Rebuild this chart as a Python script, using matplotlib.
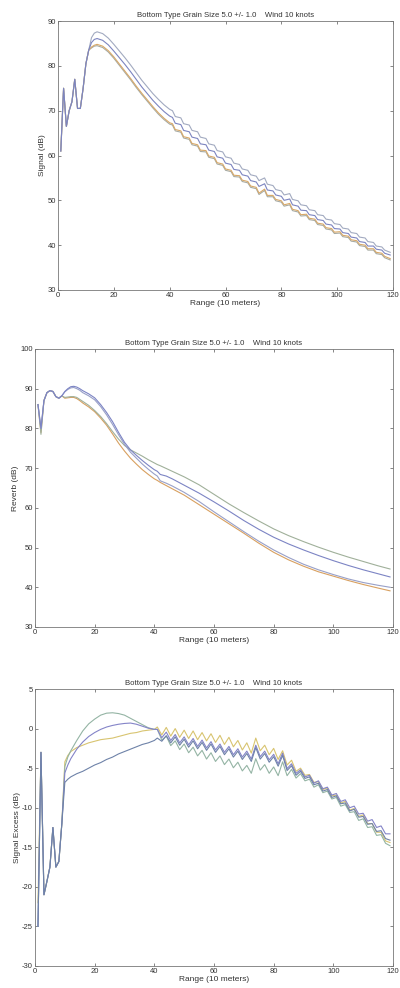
import matplotlib
matplotlib.use("Agg")
import matplotlib.pyplot as plt

plt.rcParams['font.family'] = ['Liberation Sans', 'DejaVu Sans']
plt.rcParams['axes.unicode_minus'] = False

TITLE = "Bottom Type Grain Size 5.0 +/- 1.0    Wind 10 knots"
XLABEL = "Range (10 meters)"
x_ticks = [0, 20, 40, 60, 80, 100, 120]

# Signal panel
sig_x = [1, 2, 3, 4, 5, 6, 7, 8, 9, 10, 11, 12, 13, 14,
         16, 18, 20, 22, 24, 26, 28, 30, 32, 34, 36, 38, 40,
         41, 42, 44, 45, 47, 48, 50, 51, 53, 54, 56, 57, 59, 60, 62, 63, 65, 66,
         68, 69, 71, 72, 74, 75, 77, 78, 80, 81, 83, 84, 86, 87, 89, 90, 92, 93,
         95, 96, 98, 99, 101, 102, 104, 105, 107, 108, 110, 111, 113, 114, 116,
         117, 119]
sig_a = [61, 75, 66.5, 70, 72, 77, 70.5, 70.5, 75, 80.5, 83.5, 86.3, 87.3, 87.6,
         87.2, 86.2, 84.8, 83.3, 81.8, 80.2, 78.5, 76.8, 75.3, 73.8, 72.5, 71.3, 70.3,
         70.0, 68.7, 68.4, 67.1, 66.8, 65.6, 65.3, 64.1, 63.8, 62.6, 62.3, 61.1, 60.8,
         59.7, 59.4, 58.3, 58.0, 57.0, 56.7, 55.7, 55.4, 54.4, 55.0, 53.6, 53.3, 52.4,
         52.1, 51.2, 51.5, 50.2, 49.9, 49.0, 48.8, 47.9, 47.7, 46.8, 46.6, 45.8, 45.6,
         44.8, 44.6, 43.8, 43.6, 42.8, 42.6, 41.8, 41.6, 40.8, 40.6, 39.8, 39.6, 38.9,
         38.4]
sig_b = [61, 75, 66.5, 70, 72, 77, 70.5, 70.5, 75, 80.5, 83.5, 85.2, 85.9, 86.1,
         85.7, 84.7, 83.3, 81.8, 80.3, 78.7, 77.0, 75.3, 73.8, 72.3, 71.0, 69.8, 68.8,
         68.5, 67.2, 66.9, 65.6, 65.3, 64.1, 63.8, 62.6, 62.4, 61.2, 60.9, 59.7, 59.4,
         58.3, 58.0, 56.9, 56.7, 55.7, 55.4, 54.4, 54.1, 53.1, 53.7, 52.3, 52.1, 51.2,
         50.9, 50.0, 50.3, 49.0, 48.7, 47.8, 47.7, 46.8, 46.6, 45.7, 45.5, 44.7, 44.5,
         43.7, 43.6, 42.8, 42.6, 41.8, 41.6, 40.8, 40.6, 39.8, 39.8, 39.1, 38.9, 38.2,
         37.8]
sig_c = [61, 75, 66.5, 70, 72, 77, 70.5, 70.5, 75, 80.5, 83.5, 84.2, 84.6, 84.8,
         84.4, 83.4, 82.0, 80.4, 78.8, 77.2, 75.5, 73.9, 72.4, 70.9, 69.5, 68.3, 67.3,
         67.1, 65.8, 65.5, 64.2, 63.9, 62.7, 62.4, 61.2, 61.1, 59.9, 59.6, 58.4, 58.1,
         57.0, 56.7, 55.6, 55.5, 54.5, 54.2, 53.2, 52.9, 51.6, 52.5, 51.1, 51.1, 50.2,
         49.9, 49.0, 49.3, 48.0, 47.7, 46.8, 46.9, 46.0, 45.8, 44.9, 44.7, 43.9, 43.7,
         42.9, 43.0, 42.2, 42.0, 41.2, 41.0, 40.2, 40.0, 39.2, 39.2, 38.4, 38.2, 37.5,
         37.0]
sig_d = [61, 75, 66.5, 70, 72, 77, 70.5, 70.5, 75, 80.5, 83.5, 84.0, 84.4, 84.5,
         84.1, 83.1, 81.7, 80.1, 78.5, 76.9, 75.2, 73.6, 72.1, 70.6, 69.2, 68.0, 67.0,
         66.8, 65.5, 65.2, 63.9, 63.6, 62.4, 62.1, 60.9, 60.8, 59.6, 59.3, 58.1, 57.8,
         56.7, 56.4, 55.3, 55.2, 54.2, 53.9, 52.9, 52.6, 51.3, 52.2, 50.8, 50.8, 49.9,
         49.6, 48.7, 49.0, 47.7, 47.4, 46.5, 46.6, 45.7, 45.5, 44.6, 44.4, 43.6, 43.4,
         42.6, 42.7, 41.9, 41.7, 40.9, 40.7, 39.9, 39.7, 38.9, 38.9, 38.1, 37.9, 37.2,
         36.7]

# Reverb panel
rev_x = [1, 2, 3, 4, 5, 6, 7, 8, 9, 10, 11, 12, 13, 14, 15, 16,
         18, 20, 22, 24, 26, 28, 30, 32, 34, 36, 38, 40,
         41, 42, 44, 46, 48, 50, 55, 60, 65, 70, 75, 80, 85, 90, 95, 100,
         105, 110, 115, 119]
rev_a = [86, 78.5, 87, 89, 89.5, 89.3, 88, 87.6, 88.2,
         87.8, 87.9, 88.0, 88.0, 87.8, 87.3, 86.8,
         85.8, 84.5, 83.0, 81.2, 79.2, 77.3, 75.7, 74.6, 73.8, 73.0, 72.1, 71.3,
         70.9, 70.6, 69.9, 69.2, 68.5, 67.8, 65.8, 63.4, 61.0, 58.8, 56.7, 54.7,
         53.0, 51.5, 50.1, 48.8, 47.6, 46.5, 45.4, 44.6]
rev_b = [86, 80, 87, 89, 89.5, 89.3, 88, 87.6, 88.2,
         89.3, 90.0, 90.5, 90.6, 90.4, 90.0, 89.5,
         88.7, 87.7, 86.0, 84.0, 81.7, 79.0, 76.5, 74.6, 73.2, 71.9, 70.7, 69.6,
         69.2, 68.4, 68.0, 67.3, 66.5, 65.7, 63.7, 61.5, 59.2, 56.8, 54.6, 52.6,
         50.9, 49.4, 48.0, 46.7, 45.5, 44.4, 43.4, 42.6]
rev_c = [86, 80, 87, 89, 89.5, 89.3, 88, 87.6, 88.2,
         89.2, 89.8, 90.2, 90.3, 90.0, 89.6, 89.0,
         88.2, 87.2, 85.5, 83.4, 81.0, 78.4, 76.0, 74.0, 72.5, 71.0, 69.7, 68.5,
         68.0, 66.8, 66.2, 65.5, 64.7, 63.9, 61.6, 59.0, 56.5, 54.0, 51.6, 49.4,
         47.5, 45.8, 44.4, 43.2, 42.1, 41.2, 40.5, 40.0]
rev_d = [86, 79, 87, 89, 89.5, 89.3, 88, 87.6, 88.2,
         87.6, 87.7, 87.8, 87.8, 87.5, 87.0, 86.4,
         85.4, 84.2, 82.6, 80.8, 78.6, 76.3, 74.3, 72.5, 71.0, 69.6, 68.4, 67.3,
         66.9, 66.4, 65.6, 64.8, 64.0, 63.2, 60.8, 58.4, 56.0, 53.6, 51.1, 48.8,
         46.9, 45.3, 43.9, 42.8, 41.7, 40.7, 39.8, 39.1]

# Signal excess panel
exc_x = [1, 2, 3, 4, 5, 6, 7, 8, 9, 10, 11, 12,
         14, 16, 18, 20, 22, 24, 26, 28, 30, 32, 34, 36, 38, 40,
         41, 42.5, 44, 45.5, 47, 48.5, 50, 51.5, 53, 54.5, 56, 57.5, 59, 60.5,
         62, 63.5, 65, 66.5, 68, 69.5, 71, 72.5, 74, 75.5, 77, 78.5, 80, 81.5,
         83, 84.5, 86, 87.5, 89, 90.5, 92, 93.5, 95, 96.5, 98, 99.5, 101, 102.5,
         104, 105.5, 107, 108.5, 110, 111.5, 113, 114.5, 116, 117.5, 119]
exc_a = [-25, -3, -21, -19.3, -17.5, -12.5, -17.5, -16.8, -12.0, -4.8, -3.6, -2.8,
         -1.5, -0.3, 0.6, 1.2, 1.7, 1.95, 2.0, 1.9, 1.7, 1.3, 0.9, 0.5, 0.1, -0.1,
         -0.1, -1.45, -0.95, -2.15, -1.55, -2.65, -1.95, -3.05, -2.35, -3.45,
         -2.75, -3.85, -3.05, -4.15, -3.45, -4.55, -3.85, -4.95, -4.25, -5.35,
         -4.65, -5.65, -3.8, -5.25, -4.55, -5.65, -4.85, -5.95, -4.2, -5.95,
         -5.15, -6.25, -5.7, -6.6, -6.4, -7.4, -7.1, -8.1, -7.9, -8.9, -8.7,
         -9.8, -9.6, -10.6, -10.5, -11.6, -11.4, -12.5, -12.4, -13.5, -13.4,
         -14.5, -14.8]
exc_b = [-25, -3, -21, -19.3, -17.5, -12.5, -17.5, -16.8, -12.0, -5.6, -4.6, -3.8,
         -2.6, -1.7, -1.0, -0.5, -0.1, 0.2, 0.4, 0.55, 0.65, 0.7, 0.55, 0.3, 0.05, -0.1,
         -0.1, -1.15, -0.45, -1.5, -0.75, -1.8, -1.05, -2.05, -1.25, -2.25,
         -1.45, -2.45, -1.65, -2.7, -1.95, -3.0, -2.25, -3.3, -2.55, -3.6,
         -2.85, -3.85, -2.1, -3.55, -2.85, -3.95, -3.25, -4.45, -3.1, -5.05,
         -4.45, -5.65, -5.2, -6.1, -5.9, -6.9, -6.6, -7.6, -7.4, -8.4, -8.2,
         -9.2, -9.0, -10.0, -9.8, -10.8, -10.7, -11.7, -11.5, -12.5, -12.3,
         -13.3, -13.3]
exc_c = [-22, -3, -21, -19.3, -17.5, -12.5, -17.5, -16.8, -12.0, -4.2, -3.4, -2.9,
         -2.4, -2.1, -1.8, -1.6, -1.4, -1.3, -1.2, -1.0, -0.8, -0.6, -0.5, -0.3, -0.2, -0.1,
         0.2, -0.8, 0.15, -0.95, 0.0, -1.1, -0.2, -1.25, -0.3, -1.4,
         -0.5, -1.55, -0.65, -1.75, -0.85, -2.0, -1.1, -2.3, -1.5, -2.7,
         -1.8, -3.1, -1.2, -2.8, -2.1, -3.3, -2.5, -3.9, -2.8, -4.6,
         -4.0, -5.4, -5.0, -5.9, -5.8, -6.8, -6.7, -7.7, -7.5, -8.5, -8.4,
         -9.4, -9.2, -10.3, -10.1, -11.1, -10.9, -12.0, -12.0, -13.1, -13.1,
         -14.2, -14.4]
exc_d = [-25, -3, -21, -19.3, -17.5, -12.5, -17.5, -16.8, -12.0, -6.8, -6.4, -6.1,
         -5.7, -5.4, -5.0, -4.6, -4.3, -3.9, -3.6, -3.2, -2.9, -2.6, -2.3, -2.0, -1.8, -1.5,
         -1.2, -1.6, -0.9, -1.8, -1.05, -2.1, -1.35, -2.35, -1.55, -2.55,
         -1.75, -2.75, -1.95, -3.0, -2.25, -3.3, -2.55, -3.6, -2.85, -3.9,
         -3.15, -4.15, -2.4, -3.85, -3.15, -4.25, -3.55, -4.75, -3.4, -5.3,
         -4.7, -5.9, -5.4, -6.3, -6.1, -7.1, -6.9, -7.9, -7.7, -8.7, -8.5,
         -9.5, -9.4, -10.4, -10.2, -11.2, -11.1, -12.1, -12.0, -13.0, -12.9,
         -13.9, -14.1]


def style_axes(ax, ylim, yticks, ylabel):
    ax.set_xlim(0, 120)
    ax.set_ylim(*ylim)
    ax.set_xticks(x_ticks)
    ax.set_yticks(yticks)
    ax.tick_params(direction='in', top=True, right=True, length=2.5, width=0.5,
                   labelsize=5.5, colors='#555555', labelcolor='#333333', pad=1.5)
    for s in ax.spines.values():
        s.set_color('#777777')
        s.set_linewidth(0.6)
    ax.set_title(TITLE, fontsize=5.6, color='#333333', pad=3)
    ax.set_xlabel(XLABEL, fontsize=6, color='#333333', labelpad=1)
    ax.set_ylabel(ylabel, fontsize=6, color='#333333', labelpad=1)


fig = plt.figure(figsize=(4.0, 9.88), dpi=100)
ax1 = fig.add_axes([0.145, 0.7065, 0.8375, 0.2722])
ax2 = fig.add_axes([0.0875, 0.3654, 0.895, 0.2814])
ax3 = fig.add_axes([0.0875, 0.0223, 0.895, 0.2803])

lw = 0.8
ax1.plot(sig_x, sig_d, color='#a6aaa2', lw=lw)
ax1.plot(sig_x, sig_c, color='#d8a868', lw=lw)
ax1.plot(sig_x, sig_a, color='#a2aac0', lw=lw)
ax1.plot(sig_x, sig_b, color='#7c84c0', lw=lw)
style_axes(ax1, (30, 90), [30, 40, 50, 60, 70, 80, 90], "Signal (dB)")

ax2.plot(rev_x, rev_d, color='#d8a060', lw=lw)
ax2.plot(rev_x, rev_a, color='#a0b09a', lw=lw)
ax2.plot(rev_x, rev_c, color='#98a0c8', lw=lw)
ax2.plot(rev_x, rev_b, color='#7c84c4', lw=lw)
style_axes(ax2, (30, 100), [30, 40, 50, 60, 70, 80, 90, 100], "Reverb (dB)")

ax3.plot(exc_x, exc_c, color='#d8c470', lw=lw)
ax3.plot(exc_x, exc_a, color='#94b4a4', lw=lw)
ax3.plot(exc_x, exc_b, color='#8484c8', lw=lw)
ax3.plot(exc_x, exc_d, color='#6e82a8', lw=lw)
style_axes(ax3, (-30, 5), [-30, -25, -20, -15, -10, -5, 0, 5], "Signal Excess (dB)")

fig.savefig('out.png', dpi=100)
